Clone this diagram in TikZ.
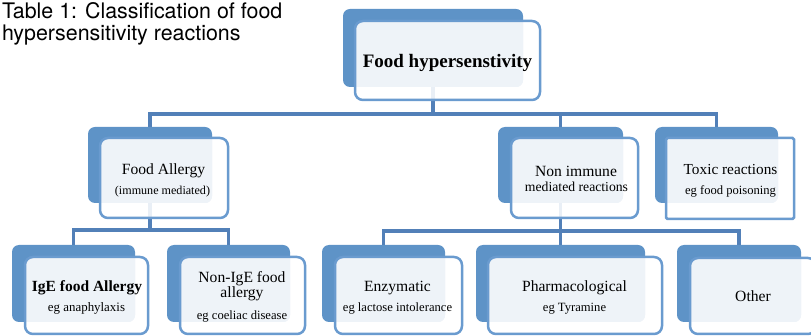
\documentclass[tikz,border=0pt]{standalone}
\usepackage{fontspec}
\setmainfont{Liberation Serif}
\newfontfamily\titlefont{TeX Gyre Heros}
\definecolor{backblue}{RGB}{94,147,199}
\definecolor{frameblue}{RGB}{106,155,207}
\definecolor{lightfill}{RGB}{238,243,248}
\definecolor{connblue}{RGB}{82,128,184}
\pgfdeclarelayer{bg}
\pgfsetlayers{bg,main}
\tikzset{
  backbox/.style={fill=backblue, rounded corners=7pt, inner sep=0pt, outer sep=0pt},
  frontframe/.style={draw=frameblue, line width=2.5pt, inner sep=0pt, outer sep=0pt},
  conn/.style={draw=connblue, line width=3.4pt},
  lbl/.style={anchor=base, inner sep=0pt, outer sep=0pt},
  mainlbl/.style={lbl, font=\fontsize{15.6}{18}\selectfont},
  sublbl/.style={lbl, font=\fontsize{12.6}{15}\selectfont},
  titlelbl/.style={anchor=base west, inner sep=0pt, outer sep=0pt, font=\titlefont\fontsize{21.4}{24}\selectfont}
}
\def\frad{8pt}
% #1 name, #2-#5 back box corners, #6-#9 front box corners
\newcommand{\diabox}[9]{%
  \pgfmathsetmacro\bw{#4-#2}\pgfmathsetmacro\bh{#5-#3}%
  \pgfmathsetmacro\fw{#8-#6}\pgfmathsetmacro\fh{#9-#7}%
  \node[backbox, minimum width=\bw pt, minimum height=\bh pt] (#1B) at ({(#2+#4)/2},{(#3+#5)/2}) {};
  \fill[white, fill opacity=0.88, rounded corners=\frad] (#6,#7) rectangle (#8,#9);
  \begin{scope}
    \clip[rounded corners=\frad] (#6,#7) rectangle (#8,#9);
    \fill[lightfill, rounded corners=7pt] (#2,#3) rectangle (#4,#5);
  \end{scope}
  \node[frontframe, rounded corners=\frad, minimum width=\fw pt, minimum height=\fh pt] (#1F) at ({(#6+#8)/2},{(#7+#9)/2}) {};
}
\begin{document}
\begin{tikzpicture}[x=1pt,y=-1pt]
\useasboundingbox (0,0) rectangle (811,336);

% title
\node[titlelbl] (title1) at (2,18.5) {Table 1: Classification of food};
\node[titlelbl] (title2) at (2,40.5) {hypersensitivity reactions};

% boxes
\diabox{top}{343}{9}{523}{87}{355}{21}{540}{100}
\diabox{fa}{88}{127}{212}{203}{100}{138}{228}{218}
\diabox{ni}{498}{127}{623}{203}{511}{138}{638}{218}
\def\frad{1.5pt}
\diabox{tx}{655}{127}{778}{203}{666}{138}{794}{219}
\def\frad{8pt}
\diabox{ig}{12}{245}{135}{322}{25}{257}{148}{334}
\diabox{nig}{167}{245}{290}{322}{180}{257}{305}{334}
\diabox{en}{322}{245}{445}{322}{335}{257}{462}{334}
\diabox{ph}{476}{245}{645}{322}{488}{257}{662}{334}
\diabox{ot}{677}{245}{801}{322}{690}{258}{816}{334}

% connectors
\coordinate (j1) at (433,114);
\coordinate (j2) at (150,230);
\coordinate (j3) at (560.5,231);
\begin{pgfonlayer}{bg}
  \draw[conn] (topB.south) -- (j1);
  \draw[conn] (faB.north) |- (j1);
  \draw[conn] (niB.north) |- (j1);
  \draw[conn] (txB.north) |- (j1);
  \draw[conn] (faB.south) -- (j2);
  \draw[conn] (igB.north) |- (j2);
  \draw[conn] (nigB.north) |- (j2);
  \draw[conn] (niB.south) -- (j3);
  \draw[conn] (enB.north) |- (j3);
  \draw[conn] (phB.north) |- (j3);
  \draw[conn] (otB.north) |- (j3);
\end{pgfonlayer}

% labels
\node[lbl, font=\bfseries\fontsize{19}{22}\selectfont] (topT) at (447.5,68) {Food hypersenstivity};
\node[mainlbl] (faT) at (163.5,175) {Food Allergy};
\node[lbl, font=\fontsize{12.1}{14}\selectfont] (faS) at (162.5,195) {(immune mediated)};
\node[mainlbl] (niT) at (576,177) {Non immune};
\node[lbl, font=\fontsize{13.7}{16}\selectfont] (niS) at (576.5,192) {mediated reactions};
\node[lbl, font=\fontsize{15.3}{18}\selectfont] (txT) at (730.5,175) {Toxic reactions};
\node[sublbl] (txS) at (730.5,195) {eg food poisoning};
\node[lbl, font=\bfseries\fontsize{15.5}{18}\selectfont] (igT) at (87,292) {IgE food Allergy};
\node[lbl, font=\fontsize{12.9}{15}\selectfont] (igS) at (86.5,312) {eg anaphylaxis};
\node[mainlbl] (nigT) at (242,283) {Non-IgE food};
\node[mainlbl] (nigT2) at (242,298) {allergy};
\node[sublbl] (nigS) at (242,320) {eg coeliac disease};
\node[mainlbl] (enT) at (397.5,292) {Enzymatic};
\node[sublbl] (enS) at (397.5,312) {eg lactose intolerance};
\node[mainlbl] (phT) at (574.5,292) {Pharmacological};
\node[sublbl] (phS) at (574.5,312) {eg Tyramine};
\node[mainlbl] (otT) at (753,302) {Other};
\end{tikzpicture}
\end{document}
